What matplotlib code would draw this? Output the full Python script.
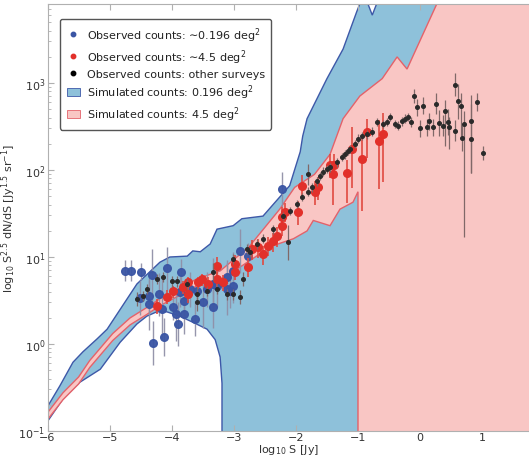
import numpy as np
import matplotlib
matplotlib.use("Agg")
import matplotlib.pyplot as plt
from matplotlib.lines import Line2D
from matplotlib.patches import Patch

# ---------------- data (log10 S [Jy], log10 S^2.5 dN/dS) ----------------
blue_x = [-4.75,-4.66,-4.49,-4.32,-4.08,-3.85,-4.51,-4.37,-4.37,-4.20,-4.16,-3.98,-3.93,-3.80,-3.80,
          -3.90,-3.62,-3.50,-3.33,-3.71,-3.59,-3.27,-3.11,-3.01,-3.11,-2.90,-3.01,-4.30,-4.12,-3.87,
          -3.43,-3.33,-2.22,-2.77,-3.06]
blue_ly = [0.84,0.84,0.83,0.79,0.87,0.83,0.53,0.55,0.46,0.57,0.40,0.43,0.34,0.49,0.34,
           0.23,0.29,0.48,0.43,0.63,0.61,0.67,0.63,0.67,0.77,1.07,0.84,0.01,0.08,0.60,
           0.63,0.69,1.78,1.01,0.61]
blue_err = [0.12,0.12,0.10,0.30,0.25,0.15,0.20,0.18,0.30,0.25,0.35,0.15,0.30,0.20,0.22,
            0.25,0.20,0.30,0.25,0.20,0.15,0.25,0.30,0.20,0.20,0.25,0.22,0.25,0.22,0.18,
            0.20,0.30,0.20,0.15,0.20]

red_x = [-4.24,-4.08,-3.98,-3.82,-3.74,-3.74,-3.58,-3.51,-3.42,-3.27,-3.27,-3.17,-2.98,-2.98,-2.77,
         -2.71,-2.61,-2.53,-2.45,-2.37,-2.30,-2.22,-2.22,-2.18,-1.97,-1.90,-1.69,-1.64,-1.45,-1.39,
         -1.40,-1.18,-1.10,-0.94,-0.86,-0.66,-0.60]
red_ly = [0.44,0.54,0.61,0.66,0.71,0.57,0.71,0.75,0.69,0.90,0.75,0.71,0.92,0.83,0.89,
          1.09,1.11,1.03,1.13,1.18,1.24,1.36,1.46,1.52,1.52,1.82,1.75,1.80,2.06,2.06,
          1.95,1.97,2.24,2.13,2.44,2.33,2.41]
red_elo = [0.10,0.08,0.08,0.08,0.08,0.10,0.08,0.08,0.10,0.12,0.10,0.10,0.12,0.10,0.12,
           0.12,0.12,0.12,0.12,0.12,0.12,0.12,0.15,0.12,0.15,0.15,0.15,0.15,0.15,0.15,
           0.35,0.35,0.45,0.60,0.30,0.55,0.55]
red_ehi = [0.08,0.08,0.06,0.06,0.06,0.08,0.06,0.06,0.08,0.10,0.08,0.08,0.10,0.08,0.10,
           0.10,0.10,0.10,0.10,0.10,0.10,0.10,0.12,0.10,0.12,0.12,0.12,0.12,0.12,0.12,
           0.15,0.15,0.25,0.25,0.15,0.25,0.25]

black_x = [-4.56,-4.46,-4.40,-4.24,-4.14,-4.00,-3.91,-3.75,-3.59,-3.59,
           -3.43,-3.27,-3.11,-3.01,-2.90,-2.85,-3.33,-3.01,-2.79,-2.74,
           -2.63,-2.53,-2.37,-2.21,-2.10,-1.98,-1.90,-1.81,-1.74,-1.66,
           -1.61,-1.56,-1.50,-1.45,-1.34,-1.26,-1.21,-1.16,-1.81,-2.13,
           -1.13,-1.05,-1.00,-0.94,-0.86,-0.77,-0.69,-0.60,-0.53,-0.48,
           -0.40,-0.36,-0.29,-0.24,-0.19,-0.15,-0.10,-0.05,0.00,0.05,
           0.11,0.14,0.21,0.26,0.30,0.37,0.40,0.45,0.47,0.56,
           0.56,0.61,0.66,0.68,0.71,0.82,0.82,0.92,1.01]
black_ly = [0.52,0.55,0.63,0.75,0.77,0.72,0.72,0.69,0.57,0.48,
            0.61,0.63,0.57,0.57,0.54,0.75,0.83,0.98,1.09,1.06,
            1.15,1.21,1.32,1.47,1.53,1.61,1.69,1.75,1.80,1.87,
            1.93,1.98,2.01,2.03,2.09,2.15,2.18,2.22,1.95,1.17,
            2.24,2.30,2.36,2.39,2.41,2.44,2.55,2.53,2.55,2.61,
            2.53,2.51,2.56,2.59,2.61,2.55,2.85,2.72,2.48,2.74,
            2.49,2.56,2.49,2.76,2.54,2.51,2.68,2.55,2.49,2.98,
            2.45,2.79,2.74,2.37,2.53,2.56,2.36,2.78,2.20]
black_elo = [0.08,0.06,0.06,0.06,0.06,0.06,0.06,0.06,0.08,0.10,
             0.06,0.06,0.06,0.06,0.08,0.08,0.10,0.06,0.06,0.06,
             0.06,0.05,0.05,0.05,0.05,0.05,0.05,0.05,0.05,0.05,
             0.05,0.05,0.05,0.05,0.05,0.05,0.05,0.05,0.12,0.20,
             0.05,0.05,0.05,0.05,0.05,0.05,0.05,0.05,0.05,0.05,
             0.05,0.05,0.05,0.05,0.05,0.06,0.08,0.10,0.10,0.10,
             0.10,0.10,0.10,0.12,0.15,0.12,0.40,0.15,0.25,0.13,
             0.12,0.20,0.35,0.15,1.30,0.60,0.40,0.10,0.08]
black_ehi = [0.08,0.06,0.06,0.06,0.06,0.06,0.06,0.06,0.08,0.10,
             0.06,0.06,0.06,0.06,0.08,0.08,0.10,0.06,0.06,0.06,
             0.06,0.05,0.05,0.05,0.05,0.05,0.05,0.05,0.05,0.05,
             0.05,0.05,0.05,0.05,0.05,0.05,0.05,0.05,0.12,0.20,
             0.05,0.05,0.05,0.05,0.05,0.05,0.05,0.05,0.05,0.05,
             0.05,0.05,0.05,0.05,0.05,0.06,0.08,0.10,0.10,0.10,
             0.10,0.10,0.10,0.12,0.15,0.12,0.12,0.15,0.12,0.13,
             0.12,0.20,0.15,0.15,0.15,0.30,0.40,0.10,0.08]

# simulated bands: edges (log10 S, log10 y)
blue_up_x = [-6.0,-5.80,-5.59,-5.43,-5.20,-5.04,-4.56,-4.19,-4.03,-3.75,-3.66,-3.54,-3.38,-3.27,
             -3.01,-2.87,-2.53,-2.10,-1.93,-1.89,-1.82,-1.50,-1.24,-1.02,-0.91,-0.84,-0.77,-0.70,-0.55,1.9]
blue_up_ly = [-0.72,-0.48,-0.21,-0.09,0.06,0.17,0.69,0.94,1.00,1.01,1.07,1.06,1.15,1.32,
              1.36,1.44,1.47,1.82,2.21,2.39,2.59,3.05,3.39,3.82,4.02,3.91,3.78,3.91,4.3,4.3]
blue_lo_x = [-6.0,-5.75,-5.48,-5.15,-4.83,-4.56,-4.40,-4.24,-4.08,-3.87,-3.66,-3.43,-3.30,-3.22,-3.19,-3.19]
blue_lo_ly = [-0.89,-0.63,-0.44,-0.29,0.02,0.23,0.32,0.37,0.37,0.32,0.25,0.17,0.05,-0.15,-0.45,-3.0]

red_up_x = [-6.0,-5.75,-5.5,-5.32,-4.95,-4.67,-4.40,-4.19,-3.87,-3.59,-3.22,-2.95,-2.74,-2.26,
            -2.02,-1.70,-1.45,-1.24,-0.97,-0.61,-0.37,-0.21,0.27,0.6,1.9]
red_up_ly = [-0.79,-0.56,-0.38,-0.19,0.12,0.30,0.42,0.52,0.64,0.75,0.84,1.00,1.13,1.55,
             1.80,1.95,2.18,2.59,2.85,3.05,3.30,3.16,3.91,4.3,4.3]
red_lo_x = [-6.0,-5.75,-5.5,-5.32,-4.95,-4.67,-4.40,-4.19,-3.87,-3.59,-3.22,-2.95,-2.53,-2.37,
            -2.04,-1.82,-1.72,-1.45,-1.29,-1.08,-1.0,-1.0]
red_lo_ly = [-0.87,-0.64,-0.46,-0.27,0.04,0.22,0.34,0.44,0.56,0.67,0.74,0.86,1.06,1.13,
             1.21,1.30,1.42,1.36,1.55,1.63,1.75,-3.0]

labels = ["Observed counts: \u223c0.196 deg$^2$",
          "Observed counts: \u223c4.5 deg$^2$",
          "Observed counts: other surveys",
          "Simulated counts: 0.196 deg$^2$",
          "Simulated counts: 4.5 deg$^2$"]

# ---------------- style ----------------
BLUE_FILL = "#8ec1da"
BLUE_EDGE = "#3d58a8"
RED_FILL = "#f9c6c4"
RED_EDGE = "#e4626a"
BLUE_PT = "#3a55a4"
RED_PT = "#e2302a"
BLACK_PT = "#2a2a2a"

fig = plt.figure(figsize=(5.29, 4.56), dpi=100)
ax = fig.add_axes([47.5/529, 24/456, (529-47.5)/529, (432-5)/456])
ax.set_yscale("log")
ax.set_xlim(-6, 1.754)
ax.set_ylim(0.1, 10**3.908)

def poly(ux, uly, lx, lly):
    xs = np.concatenate([ux, [ux[-1]], lx[::-1]])
    ys = np.concatenate([uly, [-3.0], lly[::-1]])
    return xs, 10**ys

bx, by = poly(np.array(blue_up_x), np.array(blue_up_ly), np.array(blue_lo_x), np.array(blue_lo_ly))
ax.fill(bx, by, facecolor=BLUE_FILL, edgecolor=BLUE_EDGE, lw=1.0, zorder=1)
rx, ry = poly(np.array(red_up_x), np.array(red_up_ly), np.array(red_lo_x), np.array(red_lo_ly))
ax.fill(rx, ry, facecolor=RED_FILL, edgecolor=RED_EDGE, lw=1.0, zorder=2)

def errs(ly, lo, hi):
    ly = np.array(ly); lo = np.array(lo); hi = np.array(hi)
    y = 10**ly
    return y, [y - 10**(ly - lo), 10**(ly + hi) - y]

y, e = errs(blue_ly, blue_err, blue_err)
ax.errorbar(blue_x, y, yerr=e, fmt="o", ms=5.5, mfc=BLUE_PT, mec=BLUE_PT, ecolor="#9090a8",
            elinewidth=1.0, capsize=0, alpha=0.95, zorder=3)
y, e = errs(red_ly, red_elo, red_ehi)
ax.errorbar(red_x, y, yerr=e, fmt="o", ms=5.5, mfc=RED_PT, mec=RED_PT, ecolor="#e04a40",
            elinewidth=1.2, capsize=0, zorder=4)
y, e = errs(black_ly, black_elo, black_ehi)
ax.errorbar(black_x, y, yerr=e, fmt="o", ms=2.6, mfc=BLACK_PT, mec=BLACK_PT, ecolor="#806868",
            elinewidth=0.9, capsize=0, zorder=5)

# axes styling
for side in ["left", "bottom", "top"]:
    ax.spines[side].set_color("#b0b0b0")
ax.spines["right"].set_visible(False)
ax.tick_params(which="both", direction="in", top=True, right=False, colors="#b0b0b0",
               labelcolor="#333333")
ax.tick_params(which="major", length=4)
ax.tick_params(which="minor", length=2)
ax.tick_params(axis="x", pad=1, labelsize=8)
ax.tick_params(axis="y", pad=1.5, labelsize=8)
ax.set_xticks([-6, -5, -4, -3, -2, -1, 0, 1])
ax.set_xlabel(r"log$_{10}$ S [Jy]", fontsize=8, color="#333333", va="top")
ax.xaxis.set_label_coords(0.5, -0.026)
ax.set_ylabel(r"log$_{10}$ S$^{2.5}$ dN/dS [Jy$^{1.5}$ sr$^{-1}$]", fontsize=8,
              color="#333333", labelpad=0)

handles = [Line2D([], [], ls="none", marker="o", ms=3.2, color=BLUE_PT),
           Line2D([], [], ls="none", marker="o", ms=3.2, color=RED_PT),
           Line2D([], [], ls="none", marker="o", ms=3.2, color="black"),
           Patch(facecolor=BLUE_FILL, edgecolor=BLUE_EDGE, lw=0.6),
           Patch(facecolor=RED_FILL, edgecolor=RED_EDGE, lw=0.6)]
leg = ax.legend(handles, labels, loc="upper left", bbox_to_anchor=(0.026, 0.966),
                fontsize=8, frameon=True, fancybox=True, framealpha=1.0,
                handlelength=1.2, handletextpad=0.6, labelspacing=0.3,
                borderpad=0.6, borderaxespad=0.0)
leg.get_frame().set_edgecolor("#555555")
leg.get_frame().set_linewidth(1.0)
for t in leg.get_texts():
    t.set_color("#222222")
leg.set_zorder(10)

fig.savefig("out.png", dpi=100)
